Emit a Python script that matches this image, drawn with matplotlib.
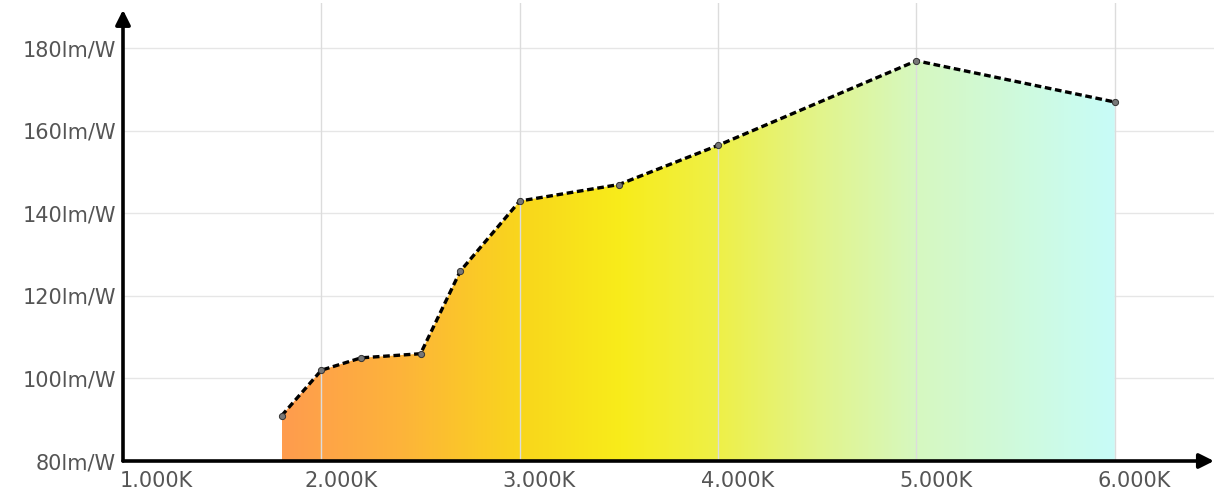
import numpy as np
import matplotlib
matplotlib.use("Agg")
import matplotlib.pyplot as plt
import matplotlib.transforms as mtransforms
from matplotlib.colors import LinearSegmentedColormap
from matplotlib.ticker import FuncFormatter

# data
cct_k = [1800, 2000, 2200, 2500, 2700, 3000, 3500, 4000, 5000, 6000]
efficacy = [91, 102, 105, 106, 126, 143, 147, 156.5, 177, 167]

x_ticks = [1000, 2000, 3000, 4000, 5000, 6000]
y_ticks = [80, 100, 120, 140, 160, 180]

# colour stops for the fill (temperature -> colour)
grad_temps = [1800, 2400, 3000, 3500, 4000, 4500, 5000, 6000]
grad_colors = ["#FF9C4E", "#FDB43A", "#F9D61C", "#F8EC1A",
               "#EEF048", "#E2F48A", "#D6F8C0", "#C8FCF8"]

X_MIN, X_MAX = 1000, 6500
Y_MIN, Y_MAX = 80, 191

fig = plt.figure(figsize=(12.27, 4.92), dpi=100)
ax = fig.add_axes([123 / 1227, 1 - 461 / 492, (1214 - 123) / 1227, (461 - 3) / 492])

# gradient fill clipped to the area under the curve
t0, t1 = grad_temps[0], grad_temps[-1]
stops = [(t - t0) / (t1 - t0) for t in grad_temps]
cmap = LinearSegmentedColormap.from_list("cct", list(zip(stops, grad_colors)))
grad = np.linspace(0, 1, 512).reshape(1, -1)
img = ax.imshow(grad, cmap=cmap, aspect="auto", extent=(t0, t1, Y_MIN, Y_MAX),
                zorder=1, interpolation="bilinear")
poly = ax.fill_between(cct_k, efficacy, Y_MIN, color="none", lw=0)
img.set_clip_path(poly.get_paths()[0], transform=ax.transData)
ax.set_xlim(X_MIN, X_MAX)
ax.set_ylim(Y_MIN, Y_MAX)

# grid
for xv in x_ticks[1:]:
    ax.axvline(xv, color="#dcdcdc", lw=1, zorder=2)
for yv in y_ticks[1:]:
    ax.axhline(yv, color="#e6e6e6", lw=1, zorder=0.5)

# line + points
ax.plot(cct_k, efficacy, color="black", lw=2.4, ls=(0, (2.0, 1.1)), zorder=4)
ax.scatter(cct_k, efficacy, s=20, color="#777777", edgecolor="#333333",
           lw=0.7, zorder=5)

# axes with arrows
for s in ax.spines.values():
    s.set_visible(False)
for tip in [(1.0, 0), (0, 0.985)]:
    ax.annotate("", xy=tip, xytext=(0, 0), xycoords="axes fraction",
                arrowprops=dict(arrowstyle="-|>", color="black", lw=2.6,
                                mutation_scale=22, shrinkA=0, shrinkB=0),
                annotation_clip=False, zorder=6)

ax.set_xticks(x_ticks)
ax.set_yticks(y_ticks)
ax.xaxis.set_major_formatter(FuncFormatter(lambda v, p: f"{int(v) // 1000}.000K"))
ax.yaxis.set_major_formatter(FuncFormatter(lambda v, p: f"{int(v)}lm/W"))
ax.tick_params(length=0, labelsize=15, labelcolor="#555555")
ax.tick_params(axis="x", pad=7)
ax.tick_params(axis="y", pad=5)

# x labels sit slightly right of their gridline, like the original
for i, lbl in enumerate(ax.get_xticklabels()):
    lbl.set_horizontalalignment("left")
    dx = -3 if i == 0 else -17
    lbl.set_transform(lbl.get_transform() +
                      mtransforms.ScaledTranslation(dx / 100, 0, fig.dpi_scale_trans))

fig.savefig("out.png", dpi=100)
